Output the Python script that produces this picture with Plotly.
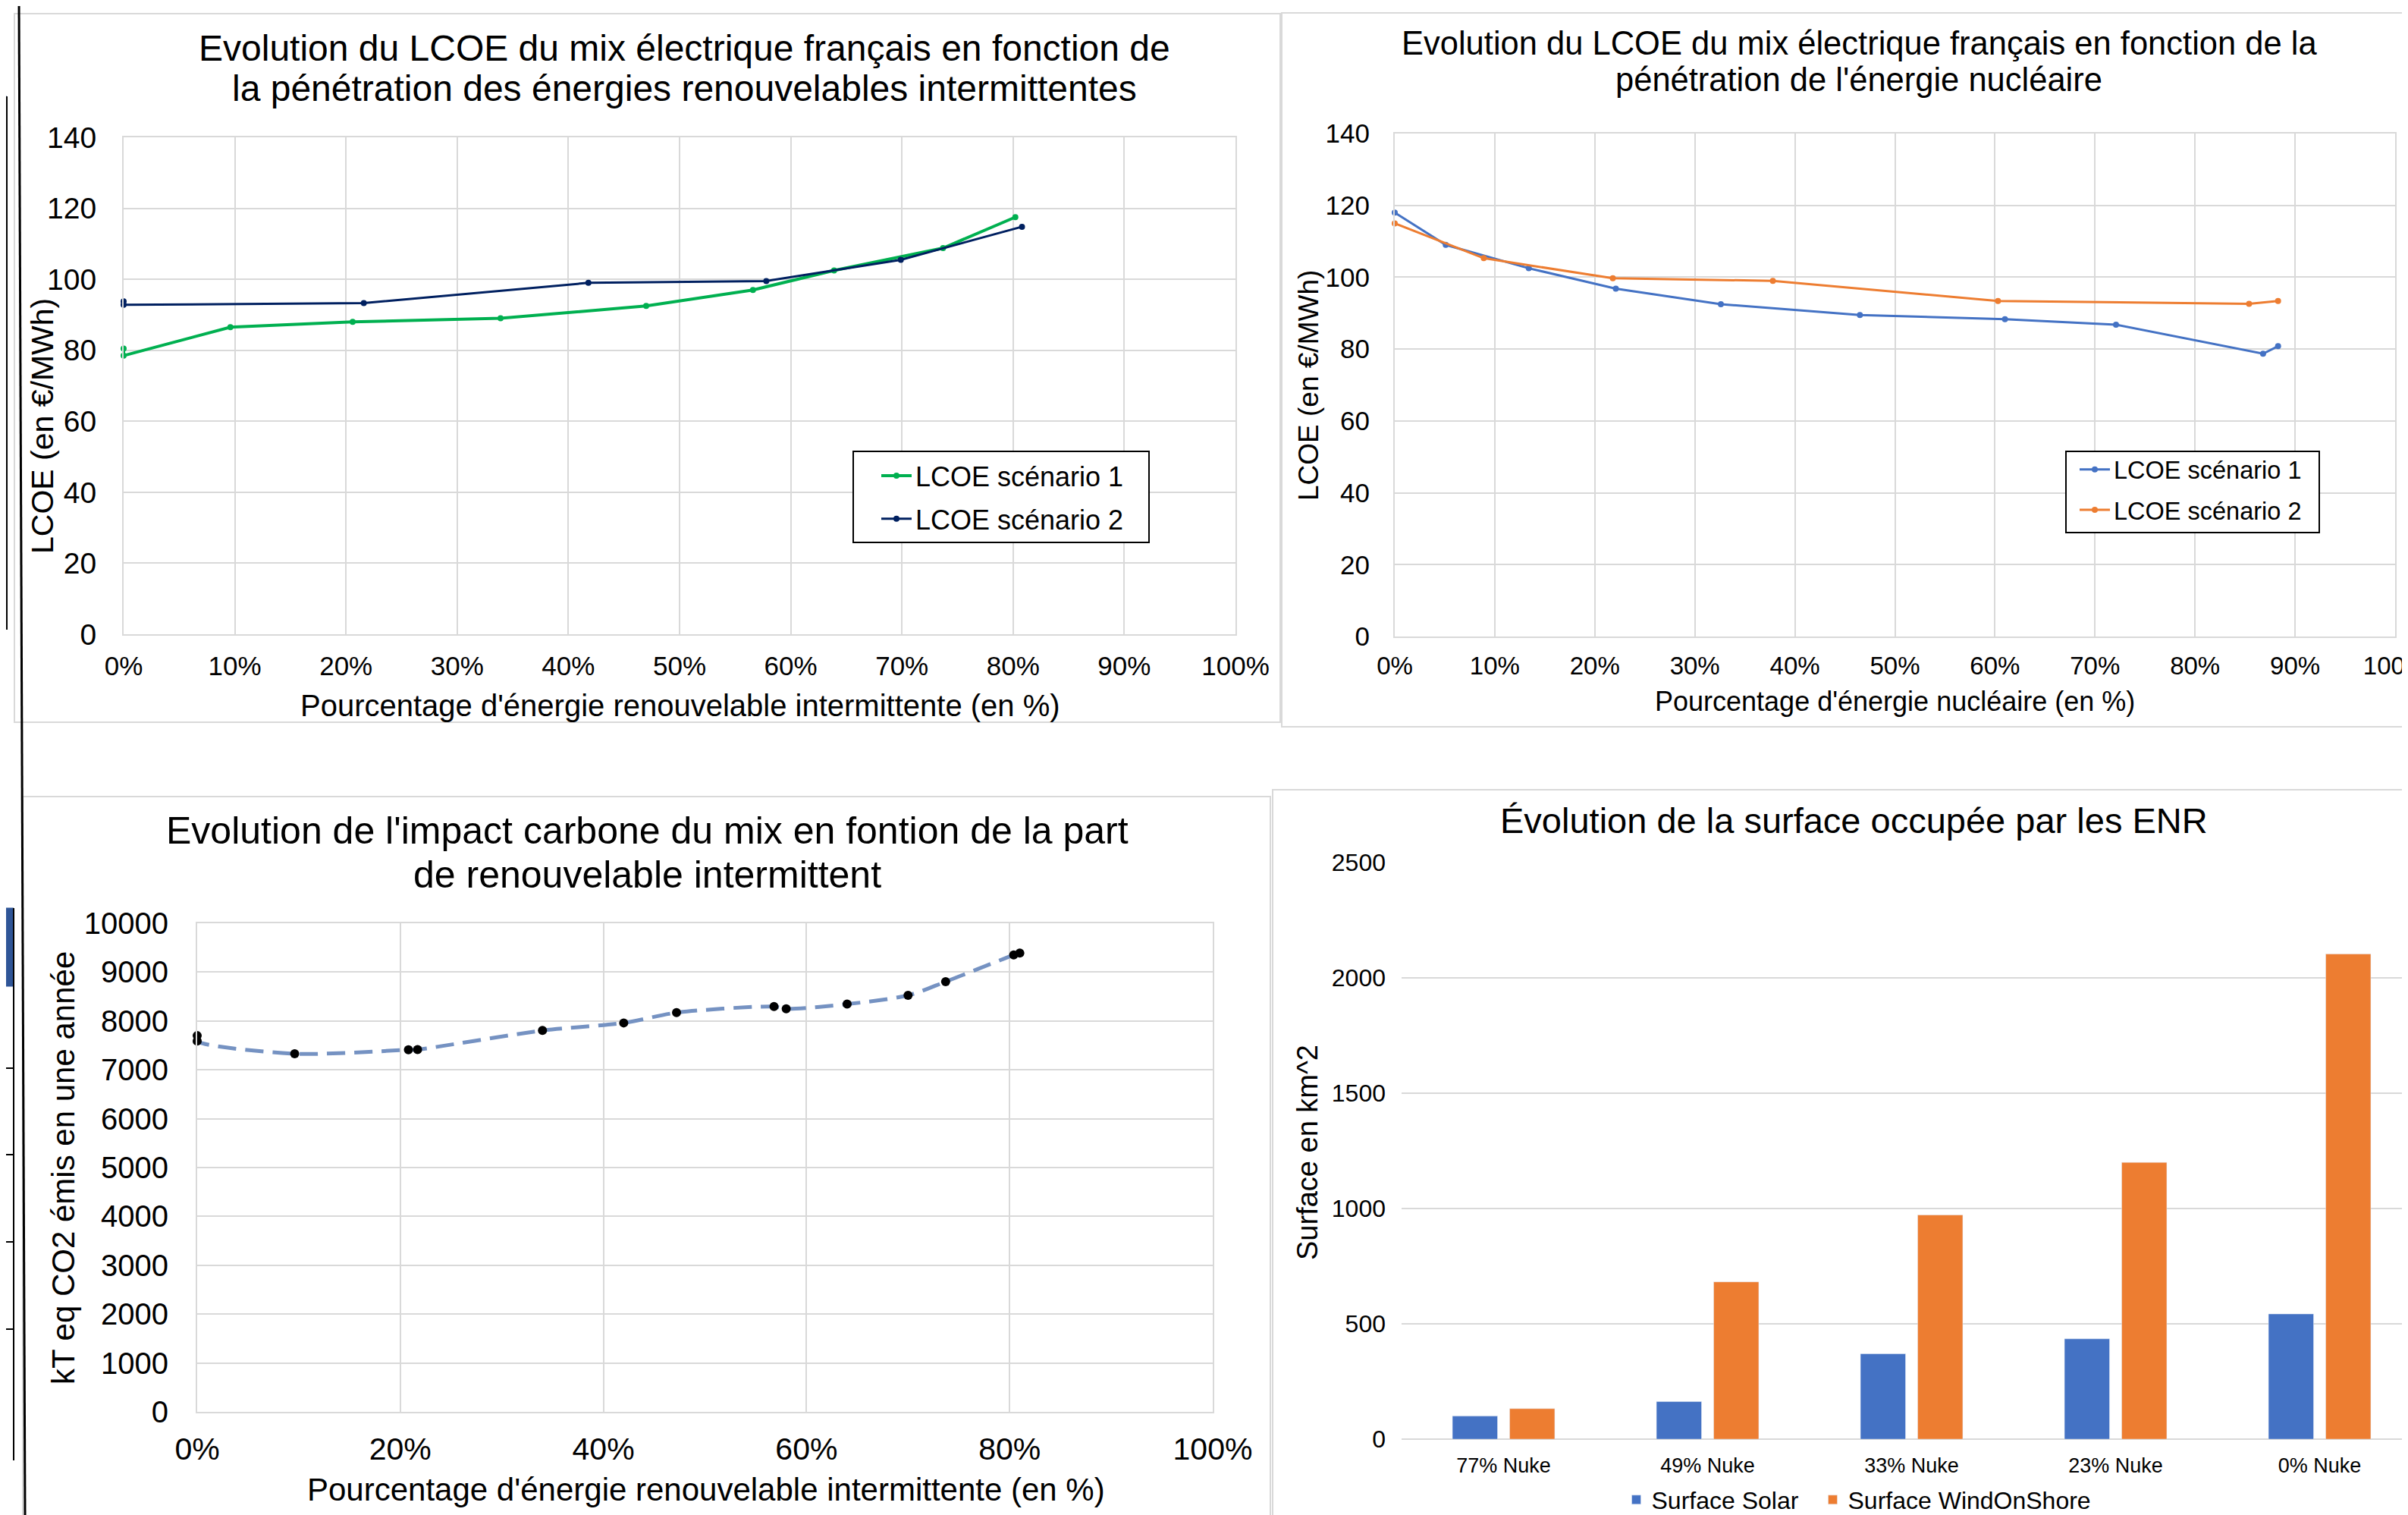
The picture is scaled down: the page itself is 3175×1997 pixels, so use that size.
import plotly.graph_objects as go

# ---------------- data ----------------
# Chart 1: LCOE vs intermittent renewable share
ren_s1_x = [0.0, 0.0, 0.096, 0.206, 0.339, 0.470, 0.566, 0.639, 0.737, 0.802]
ren_s1_y = [80.5, 78.5, 86.5, 88.0, 89.0, 92.5, 97.0, 102.5, 108.8, 117.5]
ren_s2_x = [0.0, 0.0, 0.216, 0.418, 0.578, 0.699, 0.808]
ren_s2_y = [93.8, 92.8, 93.3, 99.0, 99.5, 105.5, 114.8]

# Chart 2: LCOE vs nuclear share
nuc_s1_x = [0.0, 0.051, 0.134, 0.221, 0.326, 0.465, 0.610, 0.721, 0.868, 0.883]
nuc_s1_y = [118.0, 109.0, 102.5, 96.8, 92.5, 89.5, 88.3, 86.8, 78.7, 80.8]
nuc_s2_x = [0.0, 0.089, 0.218, 0.378, 0.603, 0.854, 0.883]
nuc_s2_y = [115.0, 105.3, 99.7, 99.0, 93.4, 92.6, 93.4]

# Chart 3: carbon impact vs intermittent renewable share
co2_x = [0.0, 0.0, 0.096, 0.208, 0.217, 0.340, 0.420, 0.472, 0.568, 0.580, 0.640, 0.700, 0.737, 0.804, 0.810]
co2_y = [7700, 7590, 7330, 7410, 7415, 7805, 7960, 8170, 8295, 8250, 8345, 8525, 8805, 9350, 9390]

# Chart 4: surface occupied by renewables
surf_cats = ["77% Nuke", "49% Nuke", "33% Nuke", "23% Nuke", "0% Nuke"]
surf_solar = [100, 163, 370, 435, 543]
surf_wind = [132, 682, 972, 1200, 2104]

# ---------------- layout helpers ----------------
W, H = 3175, 1997
OFF = 8  # the page body adds an 8px margin around the figure
FONT = "Liberation Sans, Arial, sans-serif"
GRID = "#d9d9d9"


def fx(v):
    return (v - OFF) / W


def fy(v):
    return 1 - (v - OFF) / H


fig = go.Figure()

# Chart 1 traces
fig.add_trace(go.Scatter(x=ren_s1_x, y=ren_s1_y, mode="lines+markers", name="LCOE scénario 1",
                         line=dict(color="#00b050", width=4), marker=dict(size=8, color="#00b050"),
                         xaxis="x", yaxis="y", legend="legend", legendgroup="a1", cliponaxis=False))
fig.add_trace(go.Scatter(x=ren_s2_x, y=ren_s2_y, mode="lines+markers", name="LCOE scénario 2",
                         line=dict(color="#002060", width=3), marker=dict(size=8, color="#002060"),
                         xaxis="x", yaxis="y", legend="legend", legendgroup="a2", cliponaxis=False))
# Chart 2 traces
fig.add_trace(go.Scatter(x=nuc_s1_x, y=nuc_s1_y, mode="lines+markers", name="LCOE scénario 1",
                         line=dict(color="#4472c4", width=3), marker=dict(size=8, color="#4472c4"),
                         xaxis="x2", yaxis="y2", legend="legend2", legendgroup="b1", cliponaxis=False))
fig.add_trace(go.Scatter(x=nuc_s2_x, y=nuc_s2_y, mode="lines+markers", name="LCOE scénario 2",
                         line=dict(color="#ed7d31", width=3), marker=dict(size=8, color="#ed7d31"),
                         xaxis="x2", yaxis="y2", legend="legend2", legendgroup="b2", cliponaxis=False))
# Chart 3 trace
fig.add_trace(go.Scatter(x=co2_x, y=co2_y, mode="lines+markers", name="CO2",
                         line=dict(color="#7592c2", width=5, dash="24px,12px", shape="spline", smoothing=0.8),
                         marker=dict(size=12, color="black"), showlegend=False,
                         xaxis="x3", yaxis="y3", cliponaxis=False))
# Chart 4 traces
fig.add_trace(go.Bar(x=surf_cats, y=surf_solar, name="Surface Solar", marker_color="#4472c4",
                     xaxis="x4", yaxis="y4", legend="legend3", legendwidth=214))
fig.add_trace(go.Bar(x=surf_cats, y=surf_wind, name="Surface WindOnShore", marker_color="#ed7d31",
                     xaxis="x4", yaxis="y4", legend="legend3"))


def line_axis(domain, anchor, rng, dtick, fmt, size, standoff, **kw):
    d = dict(domain=domain, anchor=anchor, range=rng, dtick=dtick, tick0=0,
             showgrid=True, gridcolor=GRID, gridwidth=2, zeroline=False,
             showline=True, linecolor=GRID, linewidth=2, mirror=True,
             ticks="", tickfont=dict(size=size, color="black", family=FONT),
             ticklabelstandoff=standoff, fixedrange=True, tickformat=fmt)
    d.update(kw)
    return d


bar_left = 1848
cat_px = 269
bar_range_end = -0.5 + (W + OFF - bar_left) / cat_px

fig.update_layout(
    width=W, height=H, autosize=False,
    margin=dict(l=0, r=0, t=0, b=0, pad=0, autoexpand=False),
    paper_bgcolor="white", plot_bgcolor="white",
    font=dict(family=FONT, color="black"),
    bargap=0.439, bargroupgap=0.212, barmode="group",
    # chart 1
    xaxis=line_axis([fx(163), fx(1629)], "y", [0, 1], 0.1, ".0%", 35, 10),
    yaxis=line_axis([fy(836), fy(181)], "x", [0, 140], 20, "d", 39, 26),
    # chart 2
    xaxis2=line_axis([fx(1839), fx(3158)], "y2", [0, 1], 0.1, ".0%", 33, 8, ticklabeloverflow="allow"),
    yaxis2=line_axis([fy(839), fy(176)], "x2", [0, 140], 20, "d", 35, 24),
    # chart 3
    xaxis3=line_axis([fx(260), fx(1599)], "y3", [0, 1], 0.2, ".0%", 41, 12),
    yaxis3=line_axis([fy(1861), fy(1217)], "x3", [0, 10000], 1000, "d", 40, 28),
    # chart 4
    xaxis4=dict(domain=[fx(bar_left), 1.0], anchor="y4", range=[-0.5, bar_range_end], type="category",
                showgrid=False, zeroline=False, showline=False, ticks="",
                tickfont=dict(size=27, color="black", family=FONT), ticklabelstandoff=16,
                fixedrange=True),
    yaxis4=dict(domain=[fy(1897), fy(1137)], anchor="x4", range=[0, 2500], dtick=500,
                showgrid=True, gridcolor=GRID, gridwidth=2, zeroline=True, zerolinecolor=GRID,
                zerolinewidth=2, showline=False, ticks="", tickformat="d",
                tickfont=dict(size=32, color="black", family=FONT), ticklabelstandoff=20,
                fixedrange=True),
    legend=dict(x=fx(1157), y=fy(597), xanchor="left", yanchor="top",
                borderwidth=0, bgcolor="rgba(0,0,0,0)",
                font=dict(size=36, color="black", family=FONT),
                traceorder="grouped", tracegroupgap=7, itemwidth=40),
    legend2=dict(x=fx(2737), y=fy(591), xanchor="left", yanchor="top",
                 borderwidth=0, bgcolor="rgba(0,0,0,0)",
                 font=dict(size=32.5, color="black", family=FONT),
                 traceorder="grouped", tracegroupgap=8, itemwidth=40),
    legend3=dict(x=fx(2450), y=fy(1977), xanchor="center", yanchor="middle",
                 orientation="h", bgcolor="rgba(0,0,0,0)", borderwidth=0,
                 font=dict(size=32, color="black", family=FONT)),
)

# ---------------- titles & axis titles ----------------
ann = []


def add_text(text, x, y, size, angle=0):
    ann.append(dict(text=text, x=fx(x), y=fy(y), xref="paper", yref="paper",
                    xanchor="center", yanchor="middle", showarrow=False, textangle=angle,
                    font=dict(size=size, color="black", family=FONT)))


add_text("Evolution du LCOE du mix électrique français en fonction de", 902, 63, 48)
add_text("la pénétration des énergies renouvelables intermittentes", 902, 117, 48)
add_text("Pourcentage d'énergie renouvelable intermittente (en %)", 897, 930, 40)
add_text("LCOE (en €/MWh)", 56, 562, 41, -90)

add_text("Evolution du LCOE du mix électrique français en fonction de la", 2451, 57, 43.5)
add_text("pénétration de l'énergie nucléaire", 2451, 105, 43.5)
add_text("Pourcentage d'énergie nucléaire (en %)", 2498, 925, 36)
add_text("LCOE (en €/MWh)", 1725, 508, 37, -90)

add_text("Evolution de l'impact carbone du mix en fontion de la part", 853, 1095, 50)
add_text("de renouvelable intermittent", 853, 1153, 50)
add_text("Pourcentage d'énergie renouvelable intermittente (en %)", 931, 1963, 42)
add_text("kT eq CO2 émis en une année", 83, 1540, 42, -90)

add_text("Évolution de la surface occupée par les ENR", 2444, 1081, 47)
add_text("Surface en km^2", 1724, 1519, 38, -90)

fig.update_layout(annotations=ann)

# ---------------- panel borders, legend frames & edge artefacts ----------------
shapes = []


def rect(x0, y0, x1, y1, line=GRID, fill=None, width=2, layer="below"):
    shapes.append(dict(type="rect", xref="paper", yref="paper", x0=fx(x0), x1=fx(x1), y0=fy(y1), y1=fy(y0),
                       line=dict(color=line, width=width), fillcolor=fill, layer=layer))


def seg(x0, y0, x1, y1, color="black", width=3):
    shapes.append(dict(type="line", xref="paper", yref="paper", x0=fx(x0), x1=fx(x1), y0=fy(y0), y1=fy(y1),
                       line=dict(color=color, width=width)))


rect(19, 18, 1688, 952)          # top-left panel
rect(1690, 17, 3200, 958)        # top-right panel
rect(30, 1050, 1675, 2010)       # bottom-left panel
rect(1678, 1041, 3200, 2010)     # bottom-right panel

# legend frames
rect(1125, 595, 1515, 715, line="black", fill="white", width=2, layer="above")
rect(2724, 595, 3058, 702, line="black", fill="white", width=2, layer="above")

# fragments of a neighbouring sheet on the far left
rect(0, 127, 9, 268, line="#2f5597", fill="#2f5597", width=1)
seg(9, 127, 9, 830, width=2)
for yy in [344, 452, 573, 688]:
    seg(0, yy, 9, yy, width=2)
rect(0, 1197, 18, 1300, line="#2f5597", fill="#2f5597", width=1)
seg(18, 1197, 18, 1925, width=2)
for yy in [1408, 1522, 1637, 1752]:
    seg(0, yy, 18, yy, width=2)
seg(25, 0, 33, 1997, width=3)

fig.update_layout(shapes=shapes)

fig.write_html("out.html")
